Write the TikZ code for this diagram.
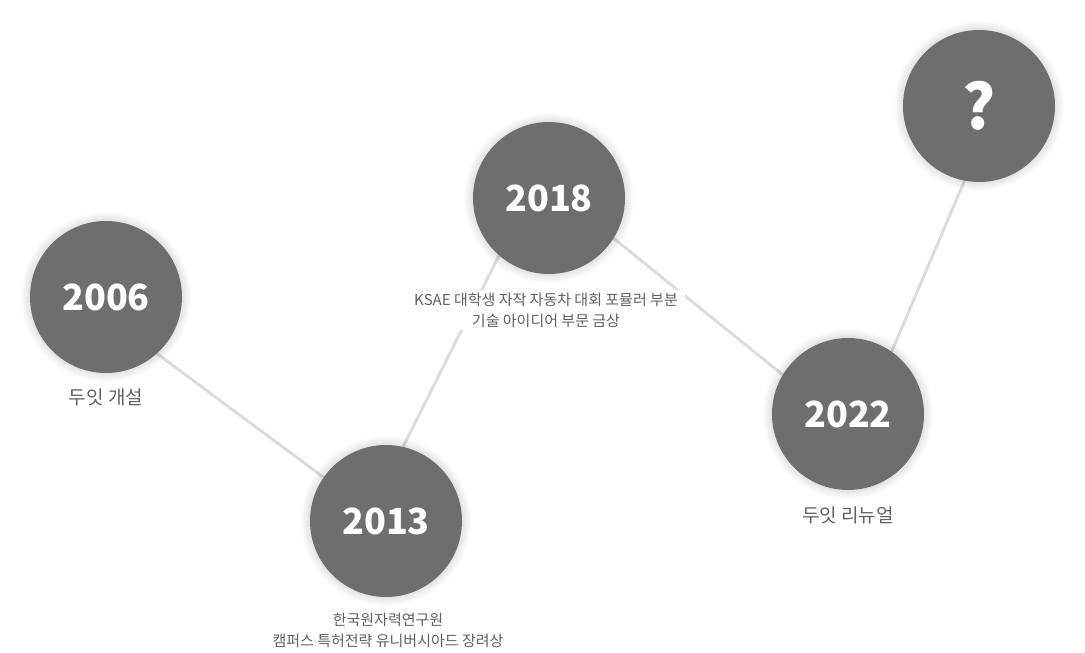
\documentclass[tikz,border=0pt]{standalone}
\usepackage{fontspec}
\setmainfont{Noto Sans CJK KR}
\pgfdeclarelayer{bg}
\pgfdeclarelayer{shadowlayer}
\pgfsetlayers{bg,shadowlayer,main}
\definecolor{circfill}{HTML}{6E6E6E}
\definecolor{linec}{HTML}{DCDCDC}
\definecolor{labc}{HTML}{606060}
\newcommand{\yr}[1]{\raisebox{-2.5pt}{#1}}
\tikzset{
  yearc/.style={circle, fill=circfill, minimum size=152pt, inner sep=0pt, text=white,
    font=\bfseries\fontsize{36}{40}\selectfont},
  qc/.style={yearc, font=\bfseries\fontsize{62}{64}\selectfont},
  biglab/.style={text=labc, font=\fontsize{19}{22}\selectfont, inner sep=1pt},
  smalllab/.style={text=labc, font=\fontsize{15}{21}\selectfont, align=center,
    fill=white, inner xsep=7pt, inner ysep=3pt},
  conn/.style={draw=linec, line width=3pt},
}
\begin{document}
\begin{tikzpicture}[x=1pt,y=-1pt]
\useasboundingbox (0,0) rectangle (1085,653);
% circles
\node[yearc] (c2006) at (106,297) {\yr{2006}};
\node[yearc] (c2013) at (386,521) {\yr{2013}};
\node[yearc] (c2018) at (549,198) {\yr{2018}};
\node[yearc] (c2022) at (848,414) {\yr{2022}};
\node[qc] (cq) at (979,106) {\yr{?}};
% soft shadows
\begin{pgfonlayer}{shadowlayer}
\foreach \n in {c2006,c2013,c2018,c2022,cq}{
  \foreach \r in {1,...,9}{
    \fill[black, opacity=0.012] (\n.center) circle[radius=76+\r];
  }
}
\end{pgfonlayer}
% labels
\node[biglab] (l2006) at (106,397) {두잇 개설};
\node[biglab] (l2022) at (848,515) {두잇 리뉴얼};
\node[smalllab] (l2018) at (546,310) {KSAE 대학생 자작 자동차 대회 포뮬러 부분\\기술 아이디어 부문 금상};
\node[smalllab, fill=none] (l2013) at (388,630) {한국원자력연구원\\캠퍼스 특허전략 유니버시아드 장려상};
% connectors
\begin{pgfonlayer}{bg}
\draw[conn] (c2006.-48) -- (c2013.145);
\draw[conn] (c2013.77) -- (c2018.229);
\draw[conn] (c2018.-32) -- (c2022.149);
\draw[conn] (c2022.55) -- (cq.259);
\end{pgfonlayer}
\end{tikzpicture}
\end{document}
